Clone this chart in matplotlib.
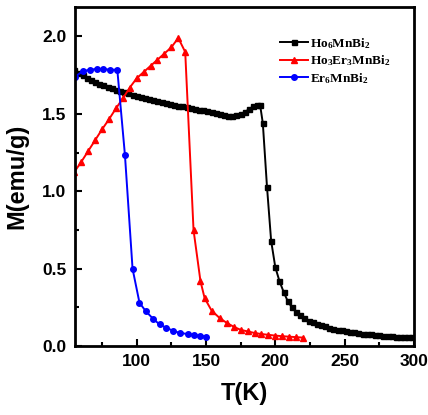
import matplotlib.pyplot as plt
from matplotlib.ticker import MultipleLocator

plt.rcParams['mathtext.fontset'] = 'custom'
plt.rcParams['mathtext.rm'] = 'Liberation Serif:bold'
plt.rcParams['mathtext.it'] = 'Liberation Serif:bold'
plt.rcParams['mathtext.bf'] = 'Liberation Serif:bold'

# Ho6MnBi2
T_ho = [55, 58, 61, 64, 67, 70, 73, 76, 79, 82, 85, 88, 91, 94, 97, 100, 103, 106,
        109, 112, 115, 118, 121, 124, 127, 130, 133, 136, 139, 142, 145, 148, 151,
        154, 157, 160, 163, 166, 169, 172, 175, 178, 181, 184, 187, 189,
        191, 194, 197, 200, 203, 206, 209, 212, 215, 218, 221, 224, 227, 230, 233,
        236, 239, 242, 245, 248, 251, 254, 257, 260, 263, 266, 269, 272, 275, 278,
        281, 284, 287, 290, 293, 296, 299]
M_ho = [1.785, 1.765, 1.748, 1.732, 1.718, 1.705, 1.695, 1.685, 1.675, 1.665, 1.656,
        1.648, 1.640, 1.632, 1.624, 1.616, 1.609, 1.602, 1.595, 1.589, 1.583, 1.577,
        1.571, 1.565, 1.560, 1.554, 1.548, 1.543, 1.538, 1.532, 1.527, 1.522, 1.516,
        1.511, 1.505, 1.499, 1.493, 1.489, 1.488, 1.490, 1.498, 1.512, 1.530, 1.548,
        1.558, 1.560,
        1.44, 1.03, 0.68, 0.51, 0.42, 0.35, 0.29, 0.25, 0.22, 0.20, 0.18, 0.165,
        0.155, 0.145, 0.135, 0.127, 0.120, 0.113, 0.107, 0.102, 0.097, 0.092, 0.088,
        0.084, 0.081, 0.078, 0.075, 0.072, 0.070, 0.068, 0.066, 0.064, 0.062, 0.060,
        0.059, 0.058, 0.057]

# Ho3Er3MnBi2
T_hoer = [55, 60, 65, 70, 75, 80, 85, 90, 95, 100, 105, 110, 115, 120, 125, 130,
          135, 141, 146, 149, 154, 160, 165, 170, 175, 180, 185, 190, 195, 200,
          205, 210, 215, 220]
M_hoer = [1.125, 1.19, 1.26, 1.33, 1.40, 1.465, 1.535, 1.60, 1.67, 1.73, 1.77, 1.81,
          1.85, 1.89, 1.93, 1.99, 1.90, 0.75, 0.42, 0.31, 0.23, 0.18, 0.15, 0.125,
          0.105, 0.095, 0.085, 0.078, 0.073, 0.068, 0.064, 0.061, 0.058, 0.055]

# Er6MnBi2
T_er = [55.5, 61, 66, 71, 76, 81, 86, 91.5, 97, 102, 106.5, 112, 116.5, 121, 126,
        131, 137, 141, 146, 150]
M_er = [1.74, 1.775, 1.785, 1.79, 1.79, 1.785, 1.785, 1.235, 0.50, 0.28, 0.226,
        0.175, 0.14, 0.12, 0.10, 0.085, 0.078, 0.072, 0.066, 0.062]

labels = [r'Ho$_6$MnBi$_2$', r'Ho$_3$Er$_3$MnBi$_2$', r'Er$_6$MnBi$_2$']

fig = plt.figure(figsize=(4.28, 4.15), dpi=100)
ax = fig.add_axes([0.175, 0.166, 0.792, 0.817])

ax.plot(T_ho, M_ho, color='black', marker='s', ms=3.6, lw=1.4, label=labels[0])
ax.plot(T_hoer, M_hoer, color='red', marker='^', ms=4.8, lw=1.4, label=labels[1])
ax.plot(T_er, M_er, color='blue', marker='o', ms=4.0, lw=1.4, label=labels[2])

ax.set_xlim(55.4, 300)
ax.set_ylim(0, 2.19)
ax.xaxis.set_major_locator(MultipleLocator(50))
ax.xaxis.set_minor_locator(MultipleLocator(25))
ax.yaxis.set_major_locator(MultipleLocator(0.5))
ax.yaxis.set_minor_locator(MultipleLocator(0.25))
ax.tick_params(which='both', direction='in', top=False, right=False, width=1.5)
ax.tick_params(which='major', length=5, labelsize=12.5, pad=6)
ax.tick_params(which='minor', length=3)
for lab in ax.get_xticklabels() + ax.get_yticklabels():
    lab.set_fontfamily('Liberation Sans')
    lab.set_fontweight('bold')
for s in ax.spines.values():
    s.set_linewidth(2)

ax.set_xlabel('T(K)', fontsize=17, fontweight='bold', family='Liberation Sans', labelpad=9)
ax.set_ylabel('M(emu/g)', fontsize=17, fontweight='bold', family='Liberation Sans', labelpad=10)

leg = ax.legend(loc='upper left', bbox_to_anchor=(0.605, 0.915), frameon=False,
                prop={'family': 'Liberation Serif', 'weight': 'bold', 'size': 9.5},
                handlelength=2.1, handletextpad=0.2, labelspacing=0.2,
                borderpad=0, borderaxespad=0)

fig.savefig('out.png', dpi=100)
